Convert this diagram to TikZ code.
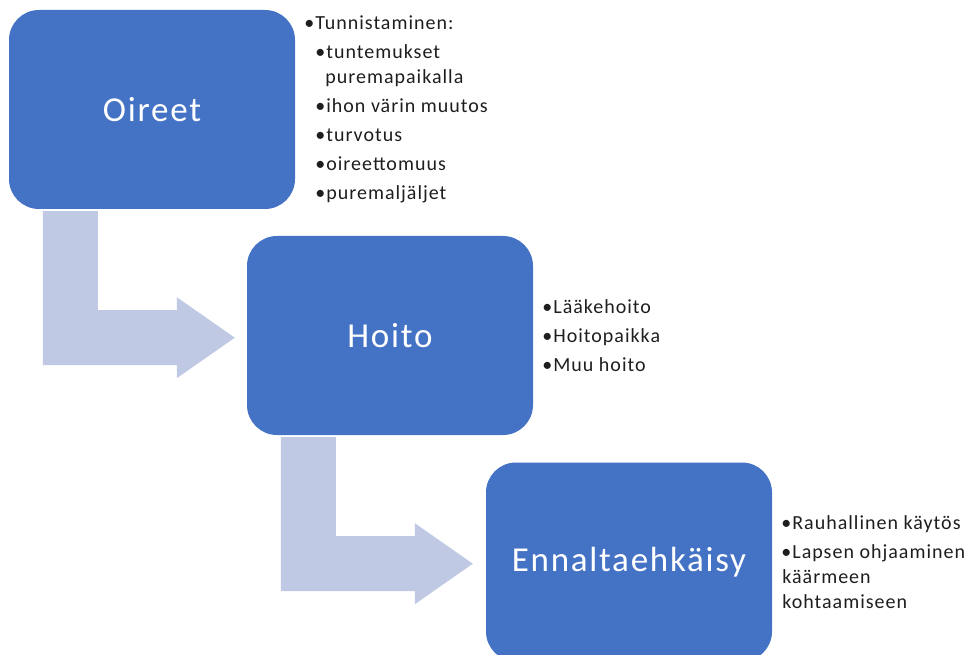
\documentclass[tikz,border=0pt]{standalone}
\usepackage{fontspec}
\setmainfont{Carlito}[LetterSpace=5]
\usetikzlibrary{positioning}
\definecolor{boxblue}{RGB}{68,114,196}
\definecolor{arrowblue}{RGB}{191,201,228}
\definecolor{listgray}{RGB}{30,30,30}
\newcommand{\bul}{\textbullet\hspace{1pt}}
\begin{document}
\begin{tikzpicture}[
        x=1pt, y=-1pt,
        font=\fontsize{20}{25}\selectfont
    ]
    \tikzset{
        phasebox/.style = {rectangle, rounded corners=30pt, fill=boxblue, text=white,
            minimum width=286pt, minimum height=199pt, font=\fontsize{35}{42}\selectfont},
        listtext/.style = {align=left, text=listgray, inner sep=0pt, anchor=west},
        bentarrow/.pic = {
            \fill[arrowblue] (34,2) -- (89,2) -- (89,101) -- (168,101) -- (168,88)
                -- (226,128.5) -- (168,169) -- (168,156) -- (34,156) -- cycle;
        },
    }
    \useasboundingbox (0,0) rectangle (972,655);
    \node[phasebox] (oireet) at (152,109.5) {Oireet};
    \node[phasebox] (hoito) at (390,335.5) {Hoito};
    \node[phasebox] (ennalta) at (629,562) {Ennaltaehkäisy};
    \pic at (oireet.south west) {bentarrow};
    \pic at (hoito.south west) {bentarrow};
    \node[listtext, right=9pt of oireet] (oireetlist) {\bul Tunnistaminen:\\[4pt]
        \hspace{11pt}\bul tuntemukset\\
        \hspace{21pt}puremapaikalla\\[4pt]
        \hspace{11pt}\bul ihon värin muutos\\[4pt]
        \hspace{11pt}\bul turvotus\\[4pt]
        \hspace{11pt}\bul oireettomuus\\[4pt]
        \hspace{11pt}\bul puremaljäljet};
    \node[listtext, right=9pt of hoito] (hoitolist) {\bul Lääkehoito\\[4pt]
        \bul Hoitopaikka\\[4pt]
        \bul Muu hoito};
    \node[listtext, right=9pt of ennalta] (ennaltalist) {\bul Rauhallinen käytös\\[4pt]
        \bul Lapsen ohjaaminen\\
        \hspace{1pt}käärmeen\\
        \hspace{1pt}kohtaamiseen};
\end{tikzpicture}
\end{document}
